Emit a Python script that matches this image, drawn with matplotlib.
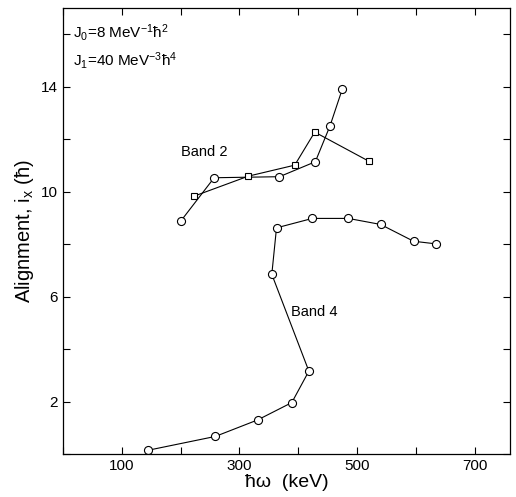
import matplotlib
matplotlib.use('Agg')
import matplotlib.pyplot as plt
from matplotlib.ticker import MultipleLocator

plt.rcParams['font.family'] = ['Liberation Sans', 'DejaVu Sans']
plt.rcParams['mathtext.default'] = 'regular'

# Band 2, circles
b2c_x = [201, 257, 368, 429, 454, 475]
b2c_y = [8.90, 10.53, 10.57, 11.14, 12.51, 13.92]
# Band 2, squares
b2s_x = [223, 315, 394, 428, 520]
b2s_y = [9.83, 10.59, 11.01, 12.27, 11.16]
# Band 4, circles
b4_x = [144, 259, 331, 389, 418, 355, 363, 424, 485, 540, 596, 634]
b4_y = [0.14, 0.67, 1.30, 1.96, 3.16, 6.85, 8.62, 8.98, 8.98, 8.75, 8.11, 8.01]

x_ticks = [100, 300, 500, 700]
y_ticks = [2, 6, 10, 14]

fig = plt.figure(figsize=(5.16, 4.97), dpi=100)
ax = fig.add_axes([0.1221, 0.0865, 0.8663, 0.8974])

ax.plot(b2c_x, b2c_y, color='black', lw=0.8, marker='o', ms=5.8, mfc='white', mec='black', mew=0.8)
ax.plot(b2s_x, b2s_y, color='black', lw=0.8, marker='s', ms=4.2, mfc='white', mec='black', mew=0.8)
ax.plot(b4_x, b4_y, color='black', lw=0.8, marker='o', ms=5.8, mfc='white', mec='black', mew=0.8)

ax.set_xlim(0, 760)
ax.set_ylim(0, 17)
ax.set_xticks(x_ticks)
ax.set_yticks(y_ticks)
ax.xaxis.set_minor_locator(MultipleLocator(100))
ax.yaxis.set_minor_locator(MultipleLocator(2))
ax.tick_params(which='both', direction='in', top=True, right=True, labelsize=11)
ax.tick_params(which='major', length=5, width=0.8)
ax.tick_params(which='minor', length=5, width=0.8)
for s in ax.spines.values():
    s.set_linewidth(0.9)

ax.set_xlabel('ħω  (keV)', fontsize=14, labelpad=1)
ax.set_ylabel('Alignment, $i_x$ (ħ)', fontsize=14.5, labelpad=4)

ax.text(0.022, 0.933, 'J$_0$=8 MeV$^{-1}$ħ$^2$', transform=ax.transAxes, fontsize=11, va='baseline')
ax.text(0.022, 0.870, 'J$_1$=40 MeV$^{-3}$ħ$^4$', transform=ax.transAxes, fontsize=11, va='baseline')
ax.text(200, 11.5, 'Band 2', fontsize=10.5, va='center')
ax.text(387, 5.4, 'Band 4', fontsize=10.5, va='center')

fig.savefig('out.png', dpi=100)
